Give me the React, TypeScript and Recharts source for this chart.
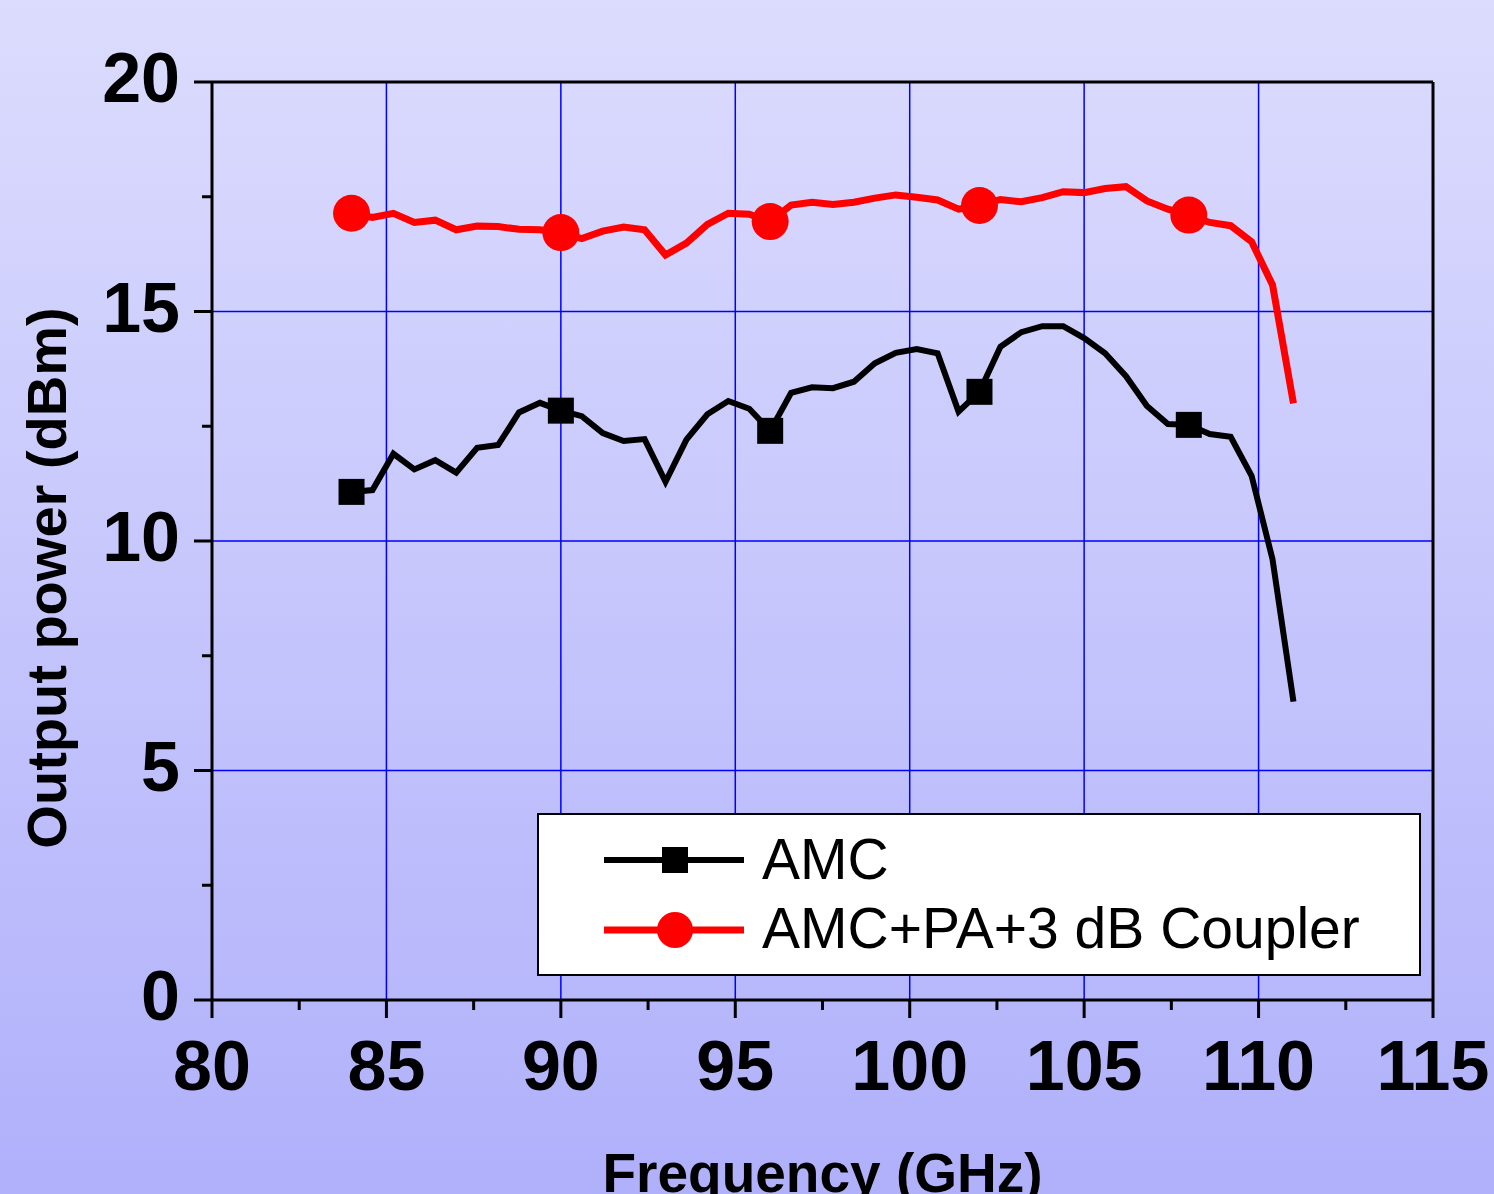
import {
  CartesianGrid,
  Legend,
  Line,
  LineChart,
  ReferenceLine,
  XAxis,
  YAxis,
} from "recharts";

const freqs = [
  84.0, 84.6, 85.2, 85.8, 86.4, 87.0, 87.6, 88.2, 88.8, 89.4,
  90.0, 90.6, 91.2, 91.8, 92.4, 93.0, 93.6, 94.2, 94.8, 95.4,
  96.0, 96.6, 97.2, 97.8, 98.4, 99.0, 99.6, 100.2, 100.8, 101.4,
  102.0, 102.6, 103.2, 103.8, 104.4, 105.0, 105.6, 106.2, 106.8, 107.4,
  108.0, 108.6, 109.2, 109.8, 110.4, 111.0,
];

const amc = [
  11.07, 11.11, 11.9, 11.56, 11.76, 11.49, 12.03, 12.09, 12.8, 13.01,
  12.84, 12.72, 12.35, 12.18, 12.22, 11.29, 12.21, 12.76, 13.05, 12.88,
  12.4, 13.23, 13.35, 13.33, 13.47, 13.87, 14.1, 14.18, 14.09, 12.82,
  13.25, 14.23, 14.55, 14.68, 14.68, 14.42, 14.09, 13.59, 12.94, 12.55,
  12.53, 12.33, 12.27, 11.42, 9.6, 6.5,
];

const amcPa = [
  17.14, 17.05, 17.14, 16.94, 16.99, 16.78, 16.86, 16.85, 16.79, 16.78,
  16.72, 16.59, 16.75, 16.84, 16.78, 16.23, 16.49, 16.9, 17.14, 17.12,
  16.96, 17.32, 17.38, 17.33, 17.38, 17.47, 17.54, 17.49, 17.43, 17.23,
  17.31, 17.44, 17.39, 17.48, 17.61, 17.59, 17.68, 17.72, 17.41, 17.23,
  17.1, 16.94, 16.87, 16.52, 15.58, 13.0,
];

const xTicks = [80, 82.5, 85, 87.5, 90, 92.5, 95, 97.5, 100, 102.5, 105, 107.5, 110, 112.5, 115];
const yTicks = [0, 2.5, 5, 7.5, 10, 12.5, 15, 17.5, 20];
const xGrid = [85, 90, 95, 100, 105, 110];
const yGrid = [5, 10, 15];

const chartData = freqs.map((f, i) => ({ f, amc: amc[i], amcPa: amcPa[i] }));

const FONT = "'Liberation Sans', Arial, sans-serif";

function XTick(props: any) {
  const { x, y, payload } = props;
  const major = payload.value % 5 === 0;
  return (
    <g>
      <line x1={x} x2={x} y1={y} y2={y + (major ? 18 : 10)} stroke="#000" strokeWidth={3} />
      {major && (
        <text x={x} y={y + 90} textAnchor="middle" fontFamily={FONT} fontWeight="bold" fontSize={70} fill="#000">
          {payload.value}
        </text>
      )}
    </g>
  );
}

function YTick(props: any) {
  const { x, y, payload } = props;
  const major = payload.value % 5 === 0;
  return (
    <g>
      <line x1={x} x2={x - (major ? 18 : 10)} y1={y} y2={y} stroke="#000" strokeWidth={3} />
      {major && (
        <text x={x - 32} y={y + 20} textAnchor="end" fontFamily={FONT} fontWeight="bold" fontSize={70} fill="#000">
          {payload.value}
        </text>
      )}
    </g>
  );
}

function squareDot(props: any) {
  const { cx, cy, index } = props;
  if (index % 10 !== 0) return <g key={index} />;
  return <rect key={index} x={cx - 13} y={cy - 13} width={26} height={26} fill="#000" />;
}

function circleDot(props: any) {
  const { cx, cy, index } = props;
  if (index % 10 !== 0) return <g key={index} />;
  return <circle key={index} cx={cx} cy={cy} r={18.5} fill="#ff0000" />;
}

function LegendBox() {
  return (
    <div
      style={{
        width: 884,
        height: 163,
        boxSizing: "border-box",
        border: "2px solid #000",
        background: "#fff",
      }}
    >
      <svg width={880} height={159} style={{ display: "block" }}>
        <line x1={65} x2={205} y1={45} y2={45} stroke="#000" strokeWidth={6} />
        <rect x={123} y={32} width={26} height={26} fill="#000" />
        <text x={223} y={64} fontFamily={FONT} fontSize={57} fill="#000">AMC</text>
        <line x1={65} x2={205} y1={115} y2={115} stroke="#ff0000" strokeWidth={7} />
        <circle cx={136} cy={115} r={18} fill="#ff0000" />
        <text x={223} y={133} fontFamily={FONT} fontSize={57} fill="#000">AMC+PA+3 dB Coupler</text>
      </svg>
    </div>
  );
}

export default function App() {
  return (
    <div
      style={{
        width: 1494,
        height: 1194,
        position: "relative",
        overflow: "hidden",
        background: "linear-gradient(to bottom, #dcdcfe, #b0b0fb)",
      }}
    >
      <style>{"body{margin:0}"}</style>
      <LineChart
        width={1494}
        height={1194}
        data={chartData}
        margin={{ top: 82, right: 61, bottom: 0, left: 0 }}
      >
        <CartesianGrid
          xAxisId="x"
          yAxisId="y"
          stroke="#0000ff"
          strokeWidth={1.5}
          verticalValues={xGrid}
          horizontalValues={yGrid}
        />
        <XAxis
          xAxisId="x"
          dataKey="f"
          type="number"
          domain={[80, 115]}
          ticks={xTicks}
          interval={0}
          height={194}
          tickSize={0}
          tickMargin={0}
          tickLine={false}
          tick={XTick}
          axisLine={{ stroke: "#000", strokeWidth: 3 }}
          label={{
            value: "Frequency (GHz)",
            position: "insideBottom",
            offset: 2,
            style: { fontFamily: FONT, fontWeight: "bold", fontSize: 55, fill: "#000" },
          }}
        />
        <YAxis
          yAxisId="y"
          type="number"
          domain={[0, 20]}
          ticks={yTicks}
          interval={0}
          width={212}
          tickSize={0}
          tickMargin={0}
          tickLine={false}
          tick={YTick}
          axisLine={{ stroke: "#000", strokeWidth: 3 }}
          label={{
            value: "Output power (dBm)",
            angle: -90,
            position: "insideLeft",
            offset: 46,
            dy: 37,
            style: { fontFamily: FONT, fontWeight: "bold", fontSize: 56, fill: "#000", textAnchor: "middle" },
          }}
        />
        <ReferenceLine xAxisId="x" yAxisId="y" y={20} stroke="#000" strokeWidth={3} />
        <ReferenceLine xAxisId="x" yAxisId="y" x={115} stroke="#000" strokeWidth={3} />
        <Legend
          layout="horizontal"
          verticalAlign="middle"
          align="center"
          content={() => <LegendBox />}
          wrapperStyle={{ position: "absolute", left: 537, top: 813, width: 884, height: 163 }}
        />
        <Line
          xAxisId="x"
          yAxisId="y"
          type="linear"
          dataKey="amc"
          name="AMC"
          stroke="#000"
          strokeWidth={6}
          dot={squareDot}
          activeDot={false}
          isAnimationActive={false}
        />
        <Line
          xAxisId="x"
          yAxisId="y"
          type="linear"
          dataKey="amcPa"
          name="AMC+PA+3 dB Coupler"
          stroke="#ff0000"
          strokeWidth={7}
          dot={circleDot}
          activeDot={false}
          isAnimationActive={false}
        />
      </LineChart>
    </div>
  );
}
